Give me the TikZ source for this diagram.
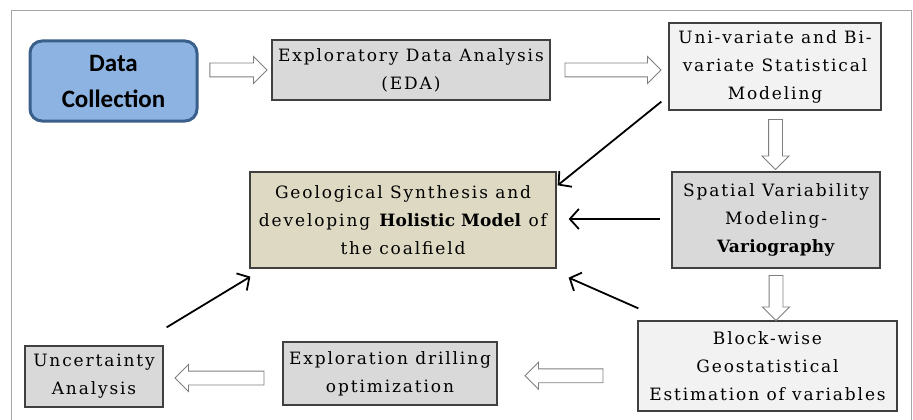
\documentclass[tikz,border=0pt]{standalone}
\usepackage{fontspec}
\usetikzlibrary{shapes.arrows,arrows.meta,calc}
\newfontfamily\boxfont[LetterSpace=11, BoldFeatures={LetterSpace=1}]{DejaVu Serif}
\newfontfamily\dcfont{Carlito}
\definecolor{dcfill}{HTML}{8DB3E2}
\definecolor{dcdraw}{HTML}{3A5F8B}
\definecolor{geofill}{HTML}{DDD9C3}
\definecolor{grayfill}{HTML}{D9D9D9}
\definecolor{lightfill}{HTML}{F2F2F2}
\definecolor{framegray}{HTML}{A6A6A6}
\definecolor{arrowgray}{HTML}{7F7F7F}
\begin{document}
\begin{tikzpicture}[x=1pt,y=-1pt,
  box/.style={draw=black!75, line width=1.3pt, align=center, inner sep=0pt,
    font=\boxfont\fontsize{17}{28}\selectfont},
  barrow/.style={single arrow, draw=arrowgray, fill=white, line width=0.9pt,
    inner xsep=0pt, inner ysep=6.5pt, minimum width=26pt, single arrow head extend=6.5pt},
  link/.style={line width=1.8pt, -{Straight Barb[length=9pt,width=20pt]}}]
\useasboundingbox (0,0) rectangle (913,420);
\draw[framegray, line width=1pt] (11,440) -- (11,11) -- (911,11) -- (911,440);

\node[draw=dcdraw, fill=dcfill, line width=3pt, rounded corners=12pt,
  minimum width=167pt, minimum height=80pt, align=center,
  font=\dcfont\bfseries\fontsize{25}{36}\selectfont] (dc) at (113.5,81) {Data\\Collection};
\node[box, fill=grayfill, minimum width=278pt, minimum height=60pt] (eda) at (411,70)
  {Exploratory Data Analysis\\(EDA)};
\node[box, fill=lightfill, minimum width=212pt, minimum height=87pt] (uni) at (775,66.5)
  {Uni-variate and Bi-\\variate Statistical\\Modeling};
\node[box, fill=geofill, minimum width=306pt, minimum height=96pt] (geo) at (403,220)
  {Geological Synthesis and\\developing \textbf{Holistic Model} of\\the coalfield};
\node[box, fill=grayfill, minimum width=208pt, minimum height=96pt] (spa) at (776,220)
  {Spatial Variability\\Modeling-\\\textbf{Variography}};
\node[box, fill=lightfill, minimum width=259pt, minimum height=90pt] (blk) at (767.5,366)
  {Block-wise\\Geostatistical\\Estimation of variables};
\node[box, fill=grayfill, minimum width=214pt, minimum height=63pt] (exp) at (390,373.5)
  {Exploration drilling\\optimization};
\node[box, fill=grayfill, minimum width=138pt, minimum height=61pt] (unc) at (94,376.5)
  {Uncertainty\\Analysis};

% block arrows
\node[barrow, minimum height=57pt] (a1) at ($(dc.east|-eda.west)!0.5!(eda.west)$) {};
\node[barrow, minimum height=96pt] (a2) at ($(eda.east)!0.5!(uni.west|-eda.east)$) {};
\node[barrow, minimum height=50pt, rotate=-90] (a3) at ($(uni.south)!0.5!(spa.north)$) {};
\node[barrow, minimum height=45pt, rotate=-90] (a4) at ($(spa.south)!0.5!(spa.south|-blk.north)$) {};
\node[barrow, minimum height=78pt, rotate=180] (a5) at ($($(blk.west)!0.5!(exp.east)$)+(0,6)$) {};
\node[barrow, minimum height=89pt, rotate=180] (a6) at ($($(exp.west)!0.5!(unc.east)$)+(0,3)$) {};

% line arrows
\draw[link] ($(uni.south west)+(-7,-9)$) -- ($(geo.north east)+(1,14)$);
\draw[link] ($(spa.west)+(-11,-1)$) -- ($(geo.east)+(12,-1)$);
\draw[link] ($(blk.north west)+(1,-12)$) -- ($(geo.south east)+(12,9)$);
\draw[link] ($(unc.north east)+(3,-18)$) -- ($(geo.south west)+(1,8)$);
\end{tikzpicture}
\end{document}
